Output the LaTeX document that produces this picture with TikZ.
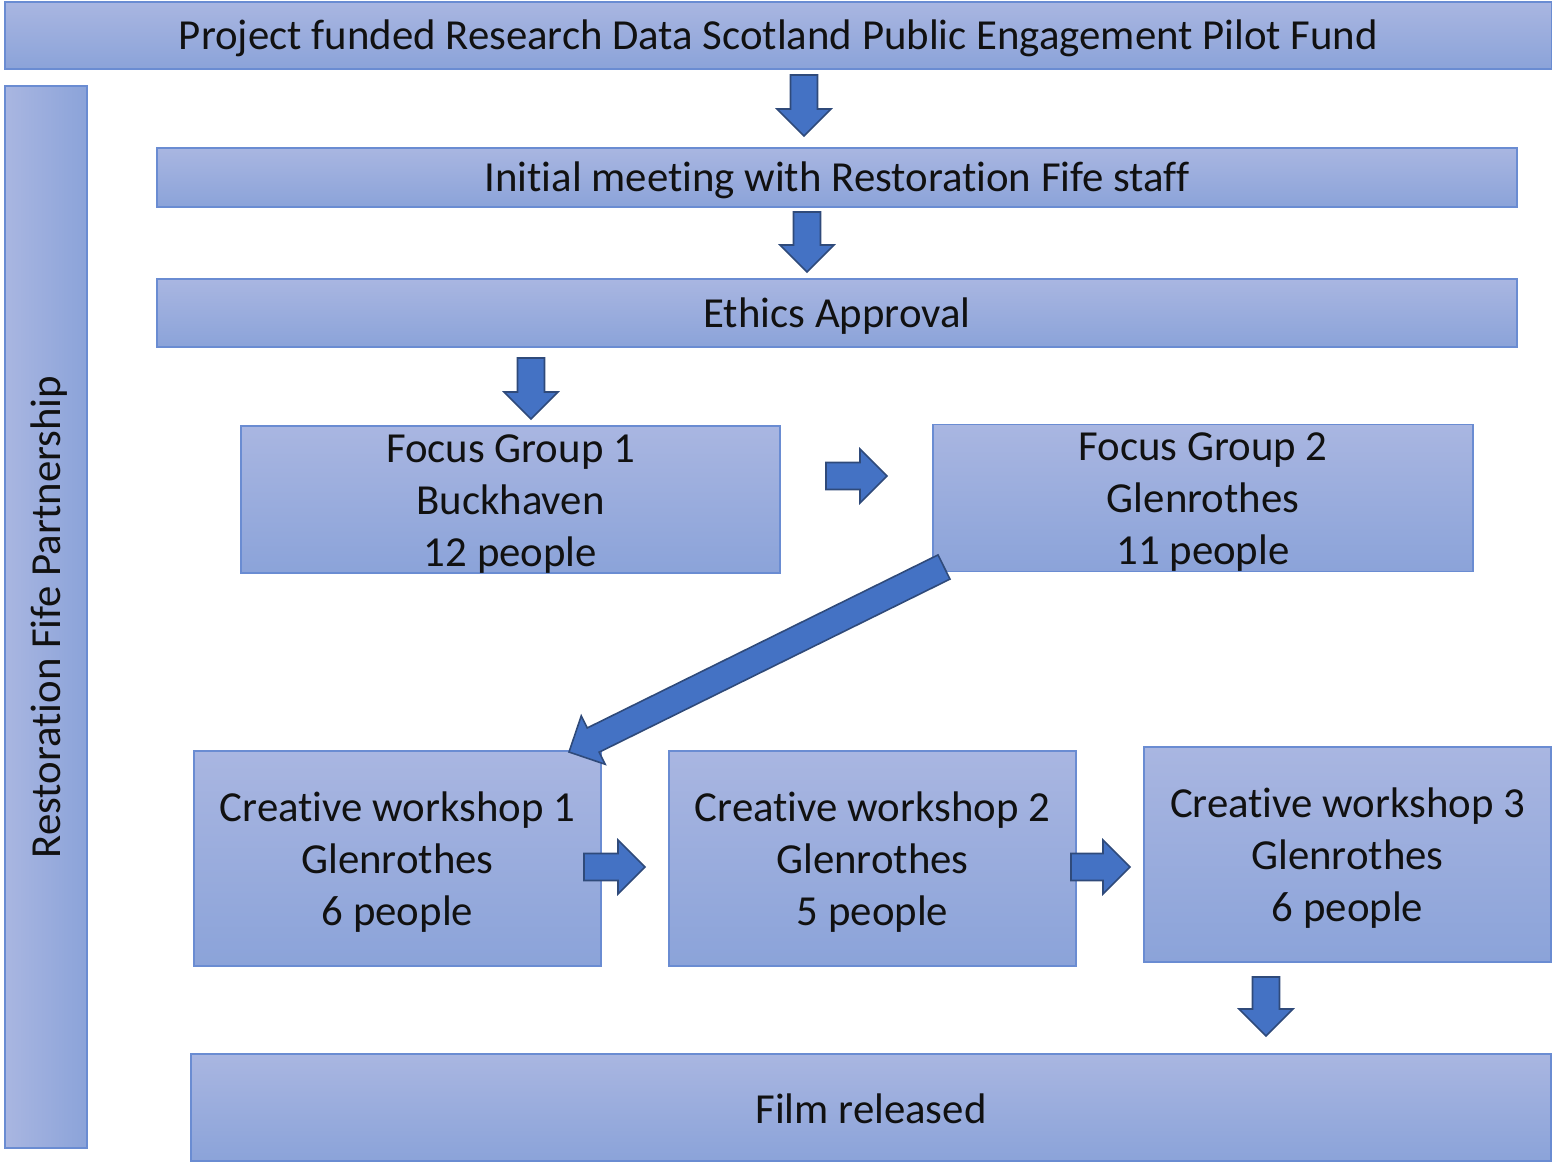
\documentclass[tikz,border=0pt]{standalone}
\usepackage{fontspec}
\setmainfont{Carlito}[Ligatures={NoCommon}]
\usetikzlibrary{calc}
\definecolor{boxtop}{HTML}{A9B6E1}
\definecolor{boxbot}{HTML}{8BA3D9}
\definecolor{boxline}{HTML}{6A8CD2}
\definecolor{arrfill}{HTML}{4472C4}
\definecolor{arrline}{HTML}{2F4A7A}
\definecolor{txt}{HTML}{111111}
\newcommand\firstline{\rule{0pt}{36pt}}
\tikzset{
  box/.style={draw=boxline, line width=1.3pt, top color=boxtop, bottom color=boxbot,
    anchor=center, inner sep=0pt, outer sep=0pt, align=center, text=txt,
    font=\fontsize{42.8}{52}\selectfont},
  sidebox/.style={box, left color=boxtop, right color=boxbot},
  arr/.style={fill=arrfill, draw=arrline, line width=1.6pt, line join=miter},
}
\newcommand\blockarrow[2]{%
  \coordinate (hb) at ($(#2)!27pt!(#1)$);
  \draw[arr] ($(#1)!13.5pt!90:(#2)$) -- ($(hb)!13.5pt!-90:(#1)$) -- ($(hb)!27pt!-90:(#1)$)
    -- (#2) -- ($(hb)!27pt!90:(#1)$) -- ($(hb)!13.5pt!90:(#1)$) -- ($(#1)!13.5pt!-90:(#2)$) -- cycle;
}
\begin{document}
\begin{tikzpicture}[x=1pt,y=-1pt]
\useasboundingbox (0,0) rectangle (1552,1162);
% boxes
\node[box, minimum width=1547, minimum height=67] (fund) at (778.5,35.5)
  {\firstline Project funded Research Data Scotland Public Engagement Pilot Fund};
\node[sidebox, rotate=90, minimum width=1062, minimum height=82] (partner) at (46,617)
  {\firstline Restoration Fife Partnership};
\node[box, minimum width=1360, minimum height=59] (init) at (837,177.5)
  {\firstline Initial meeting with Restoration Fife staff};
\node[box, minimum width=1360, minimum height=68] (ethics) at (837,313)
  {\firstline Ethics Approval};
\node[box, minimum width=539, minimum height=145] (fg1) at (510.5,499.5)
  {\firstline Focus Group 1\\Buckhaven\\12 people};
\node[box, minimum width=540, minimum height=146] (fg2) at (1203,498)
  {\firstline Focus Group 2\\Glenrothes\\11 people};
\node[box, minimum width=407, minimum height=215] (cw1) at (397.5,858.5)
  {\firstline Creative workshop 1\\Glenrothes\\6 people};
\node[box, minimum width=407, minimum height=215] (cw2) at (872.5,858.5)
  {\firstline Creative workshop 2\\Glenrothes\\5 people};
\node[box, minimum width=407, minimum height=215] (cw3) at (1347.5,854.5)
  {\firstline Creative workshop 3\\Glenrothes\\6 people};
\node[box, minimum width=1360, minimum height=107] (film) at (871,1107.5)
  {\rule{0pt}{33pt}Film released};
% arrow end points
\coordinate (a1s) at (804,75);   \coordinate (a1e) at (804,136);
\coordinate (a2s) at (807,212);  \coordinate (a2e) at (807,272);
\coordinate (a3s) at (531,358);  \coordinate (a3e) at (531,419);
\coordinate (a4s) at (826,476);  \coordinate (a4e) at (887,476);
\coordinate (a5s) at (944,567);  \coordinate (a5e) at (569,752);
\coordinate (a6s) at (584,867);  \coordinate (a6e) at (645,867);
\coordinate (a7s) at (1071,867); \coordinate (a7e) at (1130,867);
\coordinate (a8s) at (1266,977); \coordinate (a8e) at (1266,1036);
\blockarrow{a1s}{a1e}
\blockarrow{a2s}{a2e}
\blockarrow{a3s}{a3e}
\blockarrow{a4s}{a4e}
\blockarrow{a5s}{a5e}
\blockarrow{a6s}{a6e}
\blockarrow{a7s}{a7e}
\blockarrow{a8s}{a8e}
\end{tikzpicture}
\end{document}
